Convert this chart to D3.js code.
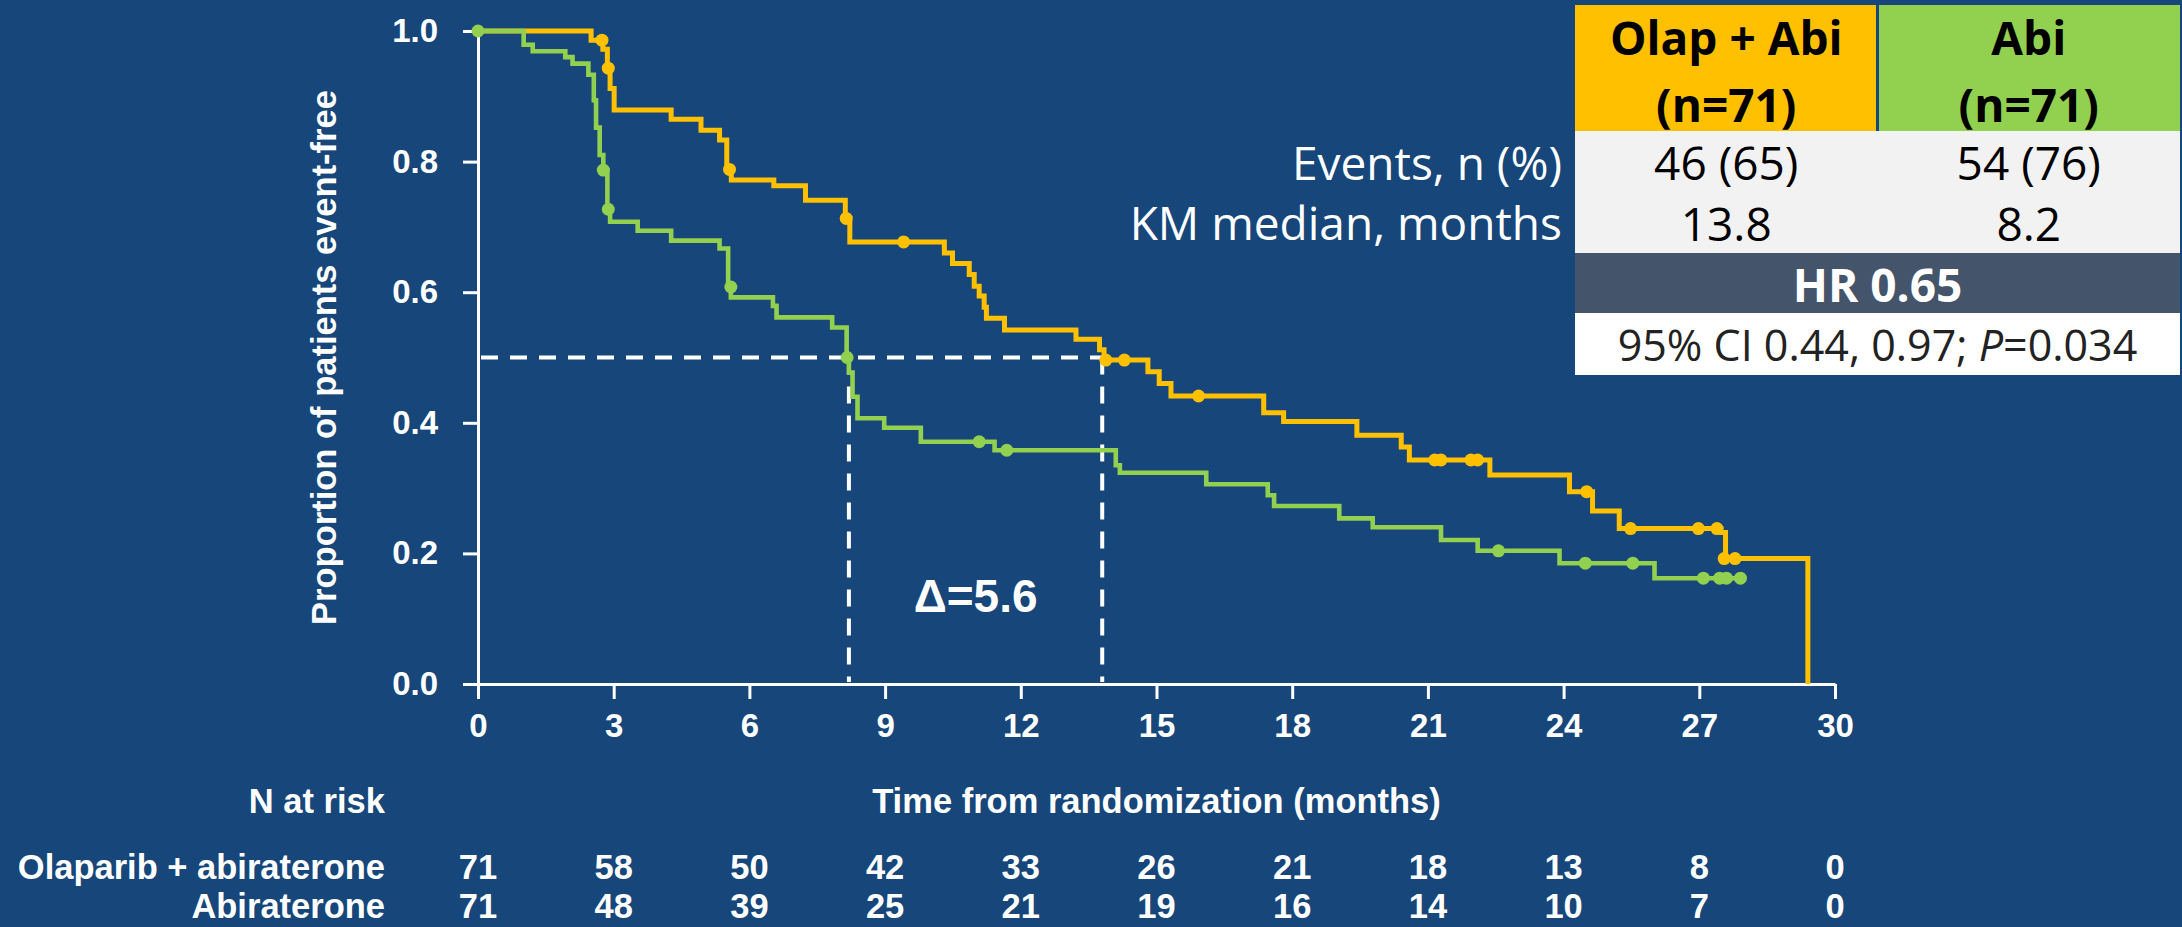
<!DOCTYPE html>
<html>
<head>
<meta charset="utf-8">
<script src="https://cdn.jsdelivr.net/npm/d3@7"></script>
<style>
  html, body { margin: 0; padding: 0; background: #16467a; }
  svg { display: block; }
</style>
</head>
<body>
<svg id="chart" width="2182" height="927"></svg>
<script>
// ---------------- DATA ----------------
const timeTicks = [0, 3, 6, 9, 12, 15, 18, 21, 24, 27, 30];
const survTicks = [0, 0.2, 0.4, 0.6, 0.8, 1.0];

// Olaparib + abiraterone KM steps [month, proportion]
const olapSteps = [
  [0, 1.0], [2.50, 0.986], [2.76, 0.972], [2.86, 0.943], [2.92, 0.912], [3.01, 0.879],
  [4.27, 0.865], [4.93, 0.848], [5.34, 0.833], [5.50, 0.788], [5.60, 0.772],
  [6.54, 0.763], [7.24, 0.741], [8.12, 0.713], [8.22, 0.677], [10.31, 0.660],
  [10.49, 0.644], [10.86, 0.627], [10.97, 0.609], [11.08, 0.594], [11.19, 0.577],
  [11.24, 0.560], [11.64, 0.542], [13.22, 0.528], [13.74, 0.512], [13.84, 0.496],
  [14.81, 0.478], [15.06, 0.460], [15.32, 0.441], [17.37, 0.4155], [17.81, 0.402],
  [19.43, 0.381], [20.41, 0.363], [20.59, 0.343], [22.37, 0.320], [24.13, 0.2945],
  [24.64, 0.265], [25.23, 0.238], [27.48, 0.232], [27.58, 0.192], [29.40, 0]
];
const olapCensor = [
  [2.74, 0.986], [2.88, 0.943], [5.56, 0.788], [8.14, 0.713], [9.41, 0.677],
  [13.88, 0.496], [14.29, 0.496], [15.93, 0.441], [21.15, 0.343], [21.29, 0.343],
  [21.95, 0.343], [22.10, 0.343], [24.51, 0.2945], [25.48, 0.238], [26.98, 0.238],
  [27.39, 0.238], [27.55, 0.192], [27.79, 0.192]
];

// Abiraterone KM steps [month, proportion]
const abiSteps = [
  [0, 1.0], [1.01, 0.979], [1.21, 0.969], [1.93, 0.960], [2.09, 0.950], [2.44, 0.933],
  [2.56, 0.894], [2.61, 0.852], [2.69, 0.810], [2.77, 0.787], [2.86, 0.727],
  [2.92, 0.708], [3.53, 0.694], [4.27, 0.679], [5.34, 0.667], [5.53, 0.608],
  [5.59, 0.592], [6.52, 0.579], [6.60, 0.5615], [7.83, 0.546], [8.15, 0.500],
  [8.20, 0.477], [8.28, 0.440], [8.39, 0.407], [8.98, 0.3925], [9.79, 0.371],
  [11.42, 0.358], [14.10, 0.335], [14.19, 0.3236], [16.10, 0.306], [17.46, 0.289],
  [17.60, 0.2726], [19.04, 0.2537], [19.78, 0.240], [21.29, 0.2205], [22.10, 0.204],
  [23.91, 0.185], [26.01, 0.162], [27.91, 0.162]
];
const abiCensor = [
  [0, 1.0], [2.77, 0.787], [2.88, 0.727], [5.59, 0.608], [8.16, 0.500],
  [11.08, 0.371], [11.69, 0.358], [22.56, 0.204], [24.48, 0.185], [25.53, 0.185],
  [27.09, 0.162], [27.45, 0.162], [27.60, 0.162], [27.91, 0.162]
];

const medians = [13.8, 8.2];          // Olap + Abi, Abi
const medianLevel = 0.5;
const deltaLabel = "Δ=5.6";

const riskLabels = ["Olaparib + abiraterone", "Abiraterone"];
const riskOlap = [71, 58, 50, 42, 33, 26, 21, 18, 13, 8, 0];
const riskAbi  = [71, 48, 39, 25, 21, 19, 16, 14, 10, 7, 0];

const tableHeads = [["Olap + Abi", "(n=71)"], ["Abi", "(n=71)"]];
const tableRowLabels = ["Events, n (%)", "KM median, months"];
const tableOlap = ["46 (65)", "13.8"];
const tableAbi = ["54 (76)", "8.2"];
const hrText = "HR 0.65";
const ciParts = ["95% CI 0.44, 0.97; ", "P", "=0.034"];

// ---------------- STYLE ----------------
const BG = "#16467a", ORANGE = "#ffc000", GREEN = "#92d050", WHITE = "#ffffff";
const chartFont = "'Liberation Sans', Arial, Helvetica, sans-serif";
const tableFont = "'Open Sans', 'DejaVu Sans', sans-serif";

const svg = d3.select("#chart");
svg.append("rect").attr("width", 2182).attr("height", 927).attr("fill", BG);

const x = d3.scaleLinear().domain([0, 30]).range([478, 1835]);
const y = d3.scaleLinear().domain([0, 1]).range([684, 31]);

// ---------------- AXES ----------------
const yAxis = svg.append("g").attr("transform", `translate(${x(0)},0)`)
  .call(d3.axisLeft(y).tickValues(survTicks).tickFormat(d3.format(".1f"))
    .tickSize(15).tickSizeOuter(0).tickPadding(25));
const xAxis = svg.append("g").attr("transform", `translate(0,${y(0)})`)
  .call(d3.axisBottom(x).tickValues(timeTicks).tickFormat(d3.format("d"))
    .tickSize(15).tickSizeOuter(0).tickPadding(15));
[yAxis, xAxis].forEach(g => {
  g.selectAll("path.domain").attr("stroke", WHITE).attr("stroke-width", 3);
  g.selectAll(".tick line").attr("stroke", WHITE).attr("stroke-width", 3);
  g.selectAll(".tick text").attr("fill", WHITE)
    .style("font-family", chartFont).style("font-weight", "bold").style("font-size", "33px");
});

svg.append("text")
  .attr("transform", `translate(336,${(y(0) + y(1)) / 2}) rotate(-90)`)
  .attr("text-anchor", "middle").attr("fill", WHITE)
  .style("font-family", chartFont).style("font-weight", "bold").style("font-size", "34.5px")
  .text("Proportion of patients event-free");

// ---------------- MEDIAN GUIDES ----------------
const guide = svg.append("g").attr("stroke", WHITE).attr("stroke-width", 4)
  .attr("stroke-dasharray", "17,12").attr("fill", "none");
guide.append("line").attr("x1", x(0) + 3).attr("x2", x(d3.max(medians)))
  .attr("y1", y(medianLevel)).attr("y2", y(medianLevel));
medians.forEach(m => {
  guide.append("line").attr("x1", x(m)).attr("x2", x(m))
    .attr("y1", y(medianLevel)).attr("y2", y(0) - 2);
});

svg.append("text")
  .attr("x", x(d3.mean(medians))).attr("y", 612)
  .attr("text-anchor", "middle").attr("fill", WHITE)
  .style("font-family", chartFont).style("font-weight", "bold").style("font-size", "46px")
  .text(deltaLabel);

// ---------------- CURVES ----------------
const line = d3.line().x(d => x(d[0])).y(d => y(d[1])).curve(d3.curveStepAfter);
const series = [
  { steps: olapSteps, censor: olapCensor, color: ORANGE, width: 5 },
  { steps: abiSteps, censor: abiCensor, color: GREEN, width: 4.6 }
];
series.forEach(s => {
  svg.append("path").datum(s.steps).attr("d", line)
    .attr("fill", "none").attr("stroke", s.color).attr("stroke-width", s.width)
    .attr("stroke-linejoin", "miter");
  svg.append("g").selectAll("circle").data(s.censor).join("circle")
    .attr("cx", d => x(d[0])).attr("cy", d => y(d[1])).attr("r", 6.5)
    .attr("fill", s.color);
});

// ---------------- RISK TABLE ----------------
const boldText = (sel) => sel.attr("fill", WHITE).style("font-family", chartFont)
  .style("font-weight", "bold").style("font-size", "34.5px");

svg.append("text").attr("x", 385).attr("y", 813).attr("text-anchor", "end")
  .call(boldText).text("N at risk");
svg.append("text").attr("x", (x(0) + x(30)) / 2).attr("y", 813).attr("text-anchor", "middle")
  .call(boldText).text("Time from randomization (months)");

[[riskOlap, 879], [riskAbi, 918]].forEach(([vals, yy], i) => {
  svg.append("text").attr("x", 385).attr("y", yy).attr("text-anchor", "end")
    .call(boldText).text(riskLabels[i]);
  svg.append("g").selectAll("text").data(vals).join("text")
    .attr("x", (d, j) => x(timeTicks[j])).attr("y", yy).attr("text-anchor", "middle")
    .call(boldText).text(d => d);
});

// ---------------- SUMMARY TABLE ----------------
const tX0 = 1575, tX1 = 2180, tMid = 1877.5;
const tab = svg.append("g");
tab.append("rect").attr("x", tX0).attr("y", 5).attr("width", tMid - tX0 - 1.5).attr("height", 126).attr("fill", ORANGE);
tab.append("rect").attr("x", tMid + 1.5).attr("y", 5).attr("width", tX1 - tMid - 1.5).attr("height", 126).attr("fill", GREEN);
tab.append("rect").attr("x", tX0).attr("y", 131).attr("width", tX1 - tX0).attr("height", 122).attr("fill", "#f2f2f2");
tab.append("rect").attr("x", tX0).attr("y", 253).attr("width", tX1 - tX0).attr("height", 60).attr("fill", "#44546a");
tab.append("rect").attr("x", tX0).attr("y", 313).attr("width", tX1 - tX0).attr("height", 62).attr("fill", "#ffffff");

const colCenters = [(tX0 + tMid) / 2, (tMid + tX1) / 2];
tableHeads.forEach((h, i) => {
  h.forEach((t, k) => {
    tab.append("text").attr("x", colCenters[i]).attr("y", k === 0 ? 55 : 122)
      .attr("text-anchor", "middle").attr("fill", "#000")
      .style("font-family", tableFont).style("font-weight", "bold").style("font-size", "46px")
      .text(t);
  });
});
[tableOlap, tableAbi].forEach((vals, i) => {
  vals.forEach((v, k) => {
    tab.append("text").attr("x", colCenters[i]).attr("y", k === 0 ? 180 : 241)
      .attr("text-anchor", "middle").attr("fill", "#000")
      .style("font-family", tableFont).style("font-size", "46px").text(v);
  });
});
tableRowLabels.forEach((t, k) => {
  tab.append("text").attr("x", 1562).attr("y", k === 0 ? 180 : 240)
    .attr("text-anchor", "end").attr("fill", WHITE)
    .style("font-family", tableFont).style("font-size", "46px").text(t);
});
tab.append("text").attr("x", tMid).attr("y", 302).attr("text-anchor", "middle").attr("fill", WHITE)
  .style("font-family", tableFont).style("font-weight", "bold").style("font-size", "46px").text(hrText);
const ci = tab.append("text").attr("x", tMid).attr("y", 361).attr("text-anchor", "middle")
  .attr("fill", "#222").style("font-family", tableFont).style("font-size", "43px");
ci.append("tspan").text(ciParts[0]);
ci.append("tspan").style("font-style", "italic").text(ciParts[1]);
ci.append("tspan").text(ciParts[2]);
</script>
</body>
</html>
